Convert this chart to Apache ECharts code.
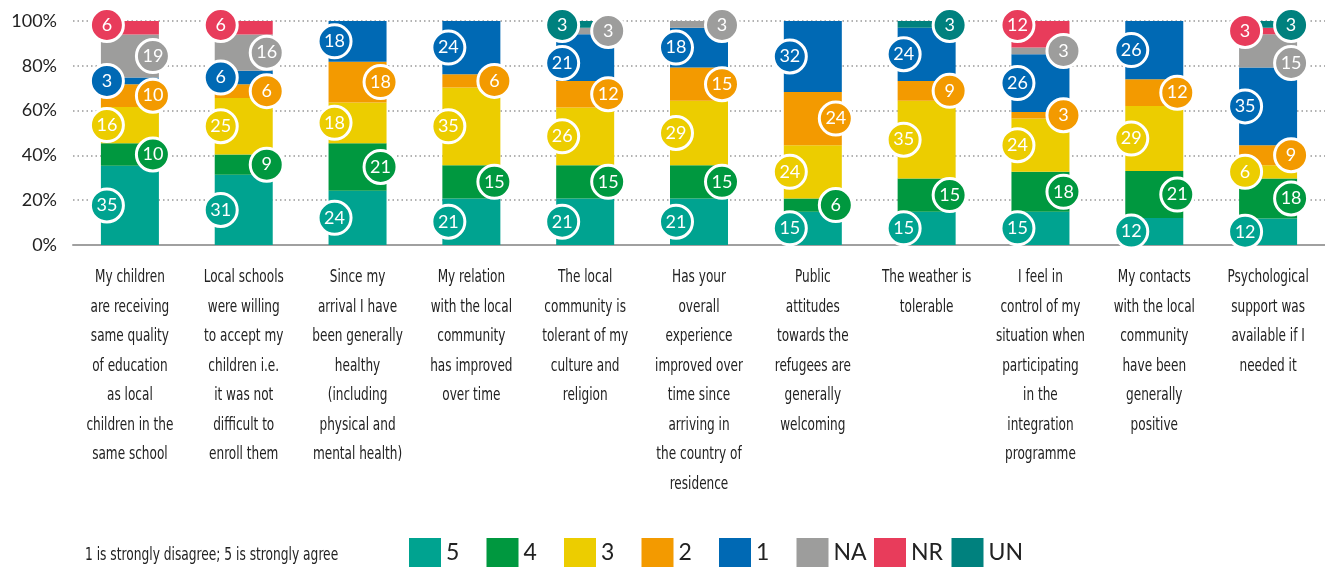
<!DOCTYPE html>
<html>
<head>
<meta charset="utf-8">
<script src="https://cdn.jsdelivr.net/npm/echarts@6/dist/echarts.min.js"></script>
<style>
html,body{margin:0;padding:0;background:#fff;}
#chart{width:1325px;height:567px;}
</style>
</head>
<body>
<div id="chart"></div>
<script>
const categories = [
  "My children\nare receiving\nsame quality\nof education\nas local\nchildren in the\nsame school",
  "Local schools\nwere willing\nto accept my\nchildren i.e.\nit was not\ndifficult to\nenroll them",
  "Since my\narrival I have\nbeen generally\nhealthy\n(including\nphysical and\nmental health)",
  "My relation\nwith the local\ncommunity\nhas improved\nover time",
  "The local\ncommunity is\ntolerant of my\nculture and\nreligion",
  "Has your\noverall\nexperience\nimproved over\ntime since\narriving in\nthe country of\nresidence",
  "Public\nattitudes\ntowards the\nrefugees are\ngenerally\nwelcoming",
  "The weather is\ntolerable",
  "I feel in\ncontrol of my\nsituation when\nparticipating\nin the\nintegration\nprogramme",
  "My contacts\nwith the local\ncommunity\nhave been\ngenerally\npositive",
  "Psychological\nsupport was\navailable if I\nneeded it"
];
const seriesNames = ["5", "4", "3", "2", "1", "NA", "NR", "UN"];
const s5 = [35, 31, 24, 21, 21, 21, 15, 15, 15, 12, 12];
const s4 = [10, 9, 21, 15, 15, 15, 6, 15, 18, 21, 18];
const s3 = [16, 25, 18, 35, 26, 29, 24, 35, 24, 29, 6];
const s2 = [10, 6, 18, 6, 12, 15, 24, 9, 3, 12, 9];
const s1 = [3, 6, 18, 24, 21, 18, 32, 24, 26, 26, 35];
const sNA = [19, 16, 0, 0, 3, 3, 0, 0, 3, 0, 15];
const sNR = [6, 6, 0, 0, 0, 0, 0, 0, 12, 0, 3];
const sUN = [0, 0, 0, 0, 3, 0, 0, 3, 0, 0, 3];
const yTicks = [0, 20, 40, 60, 80, 100];
const note = "1 is strongly disagree; 5 is strongly agree";

const seriesValues = [s5, s4, s3, s2, s1, sNA, sNR, sUN];
const colors = ["#00a390", "#00983f", "#eccd00", "#f39a00", "#0069b4", "#9d9d9c", "#e83c5b", "#00817e"];

const NARROW = "'DejaVu Sans Condensed','DejaVu Sans',sans-serif";
const NARROW_SCALE = 0.79;
const MAIN = "Lato,'Open Sans',sans-serif";

const gridTop = 21, gridBottomPx = 245, H = 567;
const gridH = gridBottomPx - gridTop;
const pxPerPct = gridH / 100;

// totals for 100% stacking
const totals = categories.map((_, i) => seriesValues.reduce((a, s) => a + s[i], 0));
const pctData = seriesValues.map(s => s.map((v, i) => v / totals[i] * 100));

// label placement (layout only)
const labelData = seriesValues.map(() => []);
categories.forEach((_, i) => {
  let cum = 0;
  const segs = [];
  seriesValues.forEach((s, si) => {
    const p = pctData[si][i];
    if (s[i] > 0) {
      segs.push({ si, raw: s[i], start: cum, end: cum + p });
    }
    cum += p;
  });
  segs.forEach((seg, k) => {
    seg.side = k % 2 === 0 ? -1 : 1;
    const c = (seg.start + seg.end) / 2;
    seg.y = gridTop + (100 - c) * pxPerPct;
    const hPx = (seg.end - seg.start) * pxPerPct;
    if (k === segs.length - 1 && hPx < 30) seg.y = gridTop + 4;
  });
  [-1, 1].forEach(side => {
    const list = segs.filter(s => s.side === side).sort((a, b) => a.y - b.y);
    for (let j = 1; j < list.length; j++) {
      if (list[j].y - list[j - 1].y < 38) list[j].y = list[j - 1].y + 38;
    }
  });
  segs.forEach(seg => {
    const yv = 100 - (seg.y - gridTop) / pxPerPct;
    labelData[seg.si].push({
      value: [i, yv, seg.raw],
      symbolOffset: [seg.side * 23, 0]
    });
  });
});

const series = [];
seriesNames.forEach((name, si) => {
  series.push({
    name: name,
    type: 'bar',
    stack: 'total',
    barWidth: 58,
    itemStyle: { color: colors[si] },
    emphasis: { disabled: true },
    data: pctData[si]
  });
});
seriesNames.forEach((name, si) => {
  series.push({
    name: name + '_lbl',
    type: 'scatter',
    z: 5 + si,
    clip: false,
    symbol: 'circle',
    symbolSize: 33,
    itemStyle: { color: colors[si], borderColor: '#ffffff', borderWidth: 3, opacity: 1 },
    emphasis: { disabled: true },
    label: {
      show: true,
      position: 'inside',
      color: '#ffffff',
      fontFamily: MAIN,
      fontSize: 18,
      formatter: p => String(p.value[2])
    },
    data: labelData[si]
  });
});
// category labels drawn through the category axis, with condensed width
series.push({
  name: 'catLabels',
  type: 'custom',
  silent: true,
  clip: false,
  data: categories.map((c, i) => [i]),
  renderItem: function (params, api) {
    const idx = api.value(0);
    const pt = api.coord([idx, 0]);
    return {
      type: 'text',
      x: pt[0],
      y: pt[1] + 18,
      scaleX: NARROW_SCALE,
      style: {
        text: categories[idx],
        align: 'center',
        verticalAlign: 'top',
        fontFamily: NARROW,
        fontSize: 17,
        lineHeight: 29.5,
        fill: '#222'
      }
    };
  }
});

const legends = seriesNames.map((name, k) => ({
  data: [name],
  left: 409 + 77.5 * k,
  top: 538,
  padding: 0,
  icon: 'rect',
  itemWidth: 32,
  itemHeight: 30,
  selectedMode: false,
  textStyle: { fontFamily: MAIN, fontSize: 23, color: '#222' }
}));

const chart = echarts.init(document.getElementById('chart'), null, { renderer: 'canvas' });
chart.setOption({
  animation: false,
  backgroundColor: '#ffffff',
  grid: { left: 73, right: 0, top: gridTop, bottom: H - gridBottomPx, containLabel: false },
  legend: legends,
  graphic: [{
    type: 'text',
    x: 85,
    y: 556,
    scaleX: 0.8,
    style: { text: note, fontFamily: NARROW, fontSize: 17, fill: '#222', verticalAlign: 'middle' }
  }],
  xAxis: {
    type: 'category',
    data: categories,
    axisTick: { show: false },
    axisLine: { lineStyle: { color: '#a0a0a0', width: 2 } },
    axisLabel: { show: false }
  },
  yAxis: {
    type: 'value',
    min: 0,
    max: 100,
    interval: 20,
    axisLine: { show: false },
    axisTick: { show: false },
    axisLabel: {
      margin: 16,
      fontFamily: MAIN,
      fontSize: 18,
      color: '#222',
      formatter: v => (yTicks.indexOf(v) >= 0 ? v + '%' : '')
    },
    splitLine: { lineStyle: { color: '#999', width: 1.5, type: [1.5, 3] } }
  },
  series: series
});
</script>
</body>
</html>
